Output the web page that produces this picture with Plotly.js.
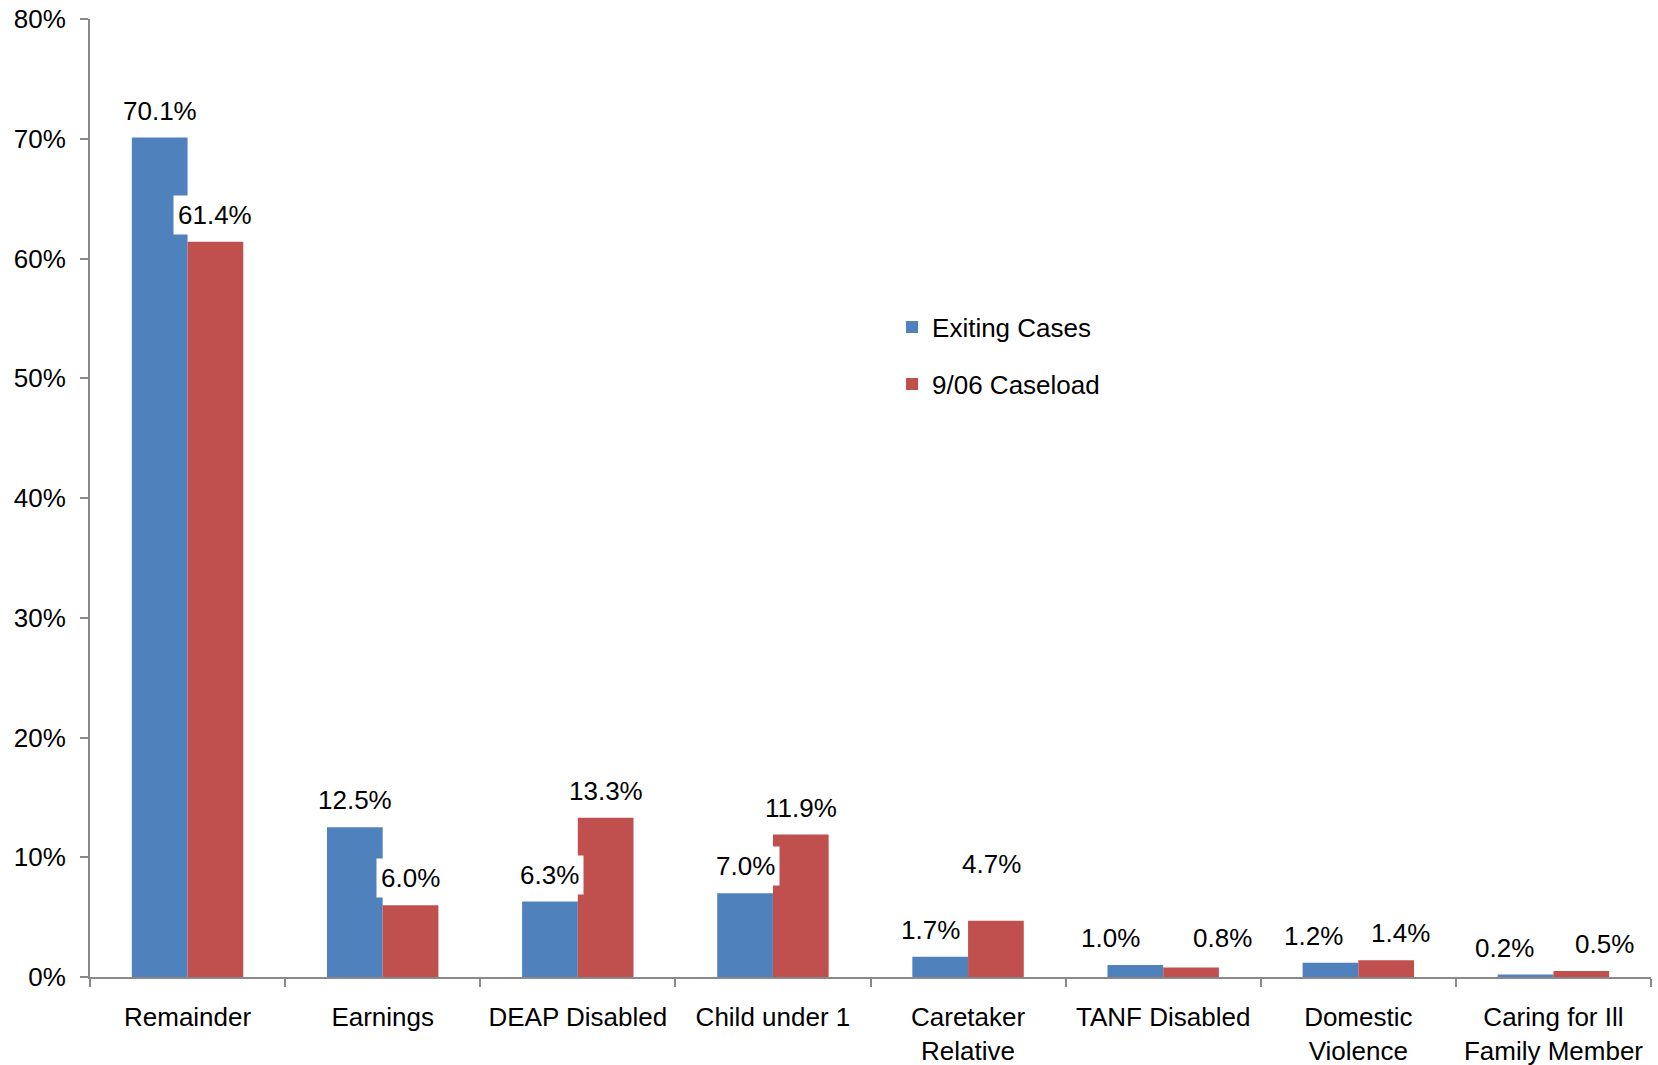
<!DOCTYPE html>
<html>
<head>
<meta charset="utf-8">
<script src="https://cdn.plot.ly/plotly-3.0.1.min.js"></script>
<style>
  html, body { margin: 0; padding: 0; background: #ffffff; }
  #chart { width: 1658px; height: 1065px; }
</style>
</head>
<body>
<div id="chart"></div>
<script>
// Share of cases by exemption reason
const categories = [
  'Remainder', 'Earnings', 'DEAP Disabled', 'Child under 1',
  'Caretaker<br>Relative', 'TANF Disabled', 'Domestic<br>Violence',
  'Caring for Ill<br>Family Member'
];
const exitingCases = [70.1, 12.5, 6.3, 7.0, 1.7, 1.0, 1.2, 0.2];
const caseload906 = [61.4, 6.0, 13.3, 11.9, 4.7, 0.8, 1.4, 0.5];
const seriesNames = ['Exiting Cases', '9/06 Caseload'];
const yTickValues = [0, 10, 20, 30, 40, 50, 60, 70, 80];
const yTickLabels = ['0%', '10%', '20%', '30%', '40%', '50%', '60%', '70%', '80%'];

// Styling
const FONT = 'Liberation Sans, Arial, Helvetica, sans-serif';
const AXIS_GREY = '#898989';
const COLORS = ['#4F81BD', '#C0504D'];
const BAR_GAP = 0.429;

// Hand nudges (px) for value labels that sit beside their bars
const labelDx = [
  [0, 0, 0, 0, -10, -25, -17, -21],
  [0, 0, 0, 0, -4, 31, 14, 23]
];
const labelDy = [
  [0, 0, 0, 0, 0, 0, 0, 0],
  [0, 0, 0, 0, 30, 2, 0, 0]
];

const series = [exitingCases, caseload906];

const traces = series.map((vals, s) => ({
  type: 'bar',
  name: seriesNames[s],
  legendgroup: 'g' + s,
  x: categories,
  y: vals,
  marker: { color: COLORS[s], line: { width: 0 } },
  hoverinfo: 'skip'
}));

// Value labels: centred over each bar of the group, white box behind
const halfBar = (1 - BAR_GAP) / 4;
const annotations = [];
series.forEach((vals, s) => {
  vals.forEach((v, i) => {
    annotations.push({
      x: i + (s === 0 ? -halfBar : halfBar),
      y: v,
      xref: 'x', yref: 'y',
      text: v.toFixed(1) + '%',
      showarrow: false,
      xanchor: 'center', yanchor: 'bottom',
      xshift: labelDx[s][i],
      yshift: 7 + labelDy[s][i],
      bgcolor: '#ffffff',
      borderpad: 4,
      font: { family: FONT, size: 26, color: '#000000' }
    });
  });
});

const layout = {
  width: 1658,
  height: 1065,
  margin: { l: 90, r: 7, t: 19, b: 88, pad: 0 },
  paper_bgcolor: '#ffffff',
  plot_bgcolor: '#ffffff',
  font: { family: FONT, color: '#000000' },
  barmode: 'group',
  bargap: BAR_GAP,
  bargroupgap: 0,
  showlegend: true,
  legend: {
    x: 0.5138, y: 0.7028, xanchor: 'left', yanchor: 'top',
    traceorder: 'grouped',
    tracegroupgap: 20,
    bgcolor: 'rgba(0,0,0,0)',
    font: { family: FONT, size: 26, color: '#000000' }
  },
  xaxis: {
    type: 'category',
    range: [-0.5, 7.5],
    showline: true, linecolor: AXIS_GREY, linewidth: 2,
    ticks: 'outside', tickson: 'boundaries', ticklen: 8, tickwidth: 2, tickcolor: AXIS_GREY,
    ticklabelstandoff: 16,
    showgrid: false, zeroline: false,
    tickfont: { family: FONT, size: 26, color: '#000000' },
    fixedrange: true
  },
  yaxis: {
    range: [0, 80],
    tickmode: 'array', tickvals: yTickValues, ticktext: yTickLabels,
    showline: true, linecolor: AXIS_GREY, linewidth: 2,
    ticks: 'outside', ticklen: 8, tickwidth: 2, tickcolor: AXIS_GREY,
    ticklabelstandoff: 9,
    showgrid: false, zeroline: false,
    tickfont: { family: FONT, size: 26, color: '#000000' },
    fixedrange: true
  },
  annotations: annotations,
  hovermode: false
};

Plotly.newPlot('chart', traces, layout, { staticPlot: true, displayModeBar: false });
</script>
</body>
</html>
